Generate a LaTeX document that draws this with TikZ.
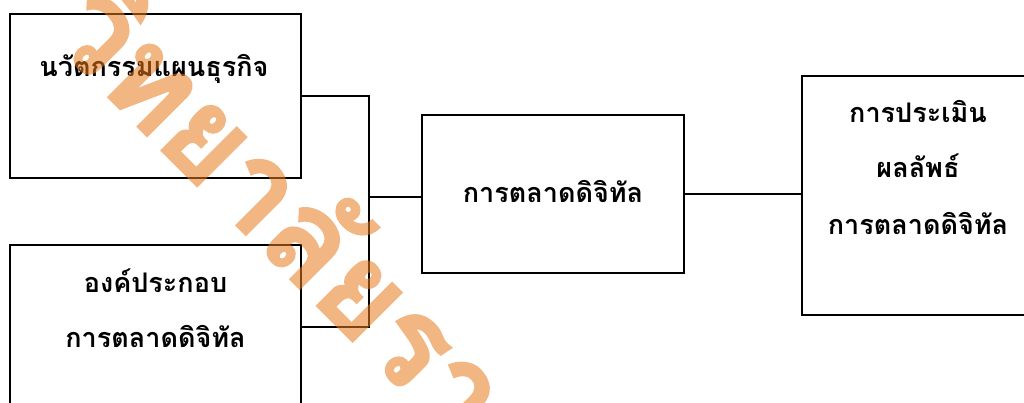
\documentclass[tikz,border=0pt]{standalone}
\usepackage{fontspec}
\newfontfamily\thaifont[Script=Thai]{Loma}
\newfontfamily\wmfont[Script=Thai,FakeBold=1.6]{Loma}
\definecolor{wmorange}{HTML}{E97B1E}
\begin{document}
\begin{tikzpicture}[x=1pt,y=-1pt,
  box/.style={draw=black,line width=1.9pt,fill=none,inner sep=0pt,outer sep=0pt},
  lbl/.style={font=\thaifont\bfseries\fontsize{27}{31}\selectfont,anchor=base,inner sep=0pt},
  conn/.style={draw=black,line width=1.9pt},
  wm/.style={font=\wmfont\bfseries\fontsize{125}{130}\selectfont,text=wmorange,rotate=-45,anchor=base,inner sep=0pt}]
\useasboundingbox (0,0) rectangle (1024,403);
\fill[white] (0,0) rectangle (1024,403);
% boxes
\node[box,minimum width=291pt,minimum height=164pt] (A) at (155.5,96) {};
\node[box,minimum width=291pt,minimum height=164pt] (B) at (155.5,327) {};
\node[box,minimum width=262pt,minimum height=158pt] (C) at (553,194) {};
\node[box,minimum width=232pt,minimum height=239pt] (D) at (918,195.5) {};
% labels
\node[lbl] (ta) at (154,77) {นวัตกรรมแผนธุรกิจ};
\node[lbl] (tb1) at (155.5,292) {องค์ประกอบ};
\node[lbl] (tb2) at (155.5,347) {การตลาดดิจิทัล};
\node[lbl] (tc) at (553,203) {การตลาดดิจิทัล};
\node[lbl] (td1) at (918,123) {การประเมิน};
\node[lbl] (td2) at (918,178) {ผลลัพธ์};
\node[lbl] (td3) at (918,235) {การตลาดดิจิทัล};
% connectors
\coordinate (j) at (369,197);
\draw[conn] (A.east) -- (A.east -| j) -- (B.east -| j) -- (B.east);
\draw[conn] (j) -- (j -| C.west);
\draw[conn] (C.east) -- (C.east -| D.west);
% watermark
\begin{scope}[transparency group,opacity=0.55]
\node[wm] (wmk) at (281,270) {วิทยาลัยราช};
\end{scope}
\end{tikzpicture}
\end{document}
